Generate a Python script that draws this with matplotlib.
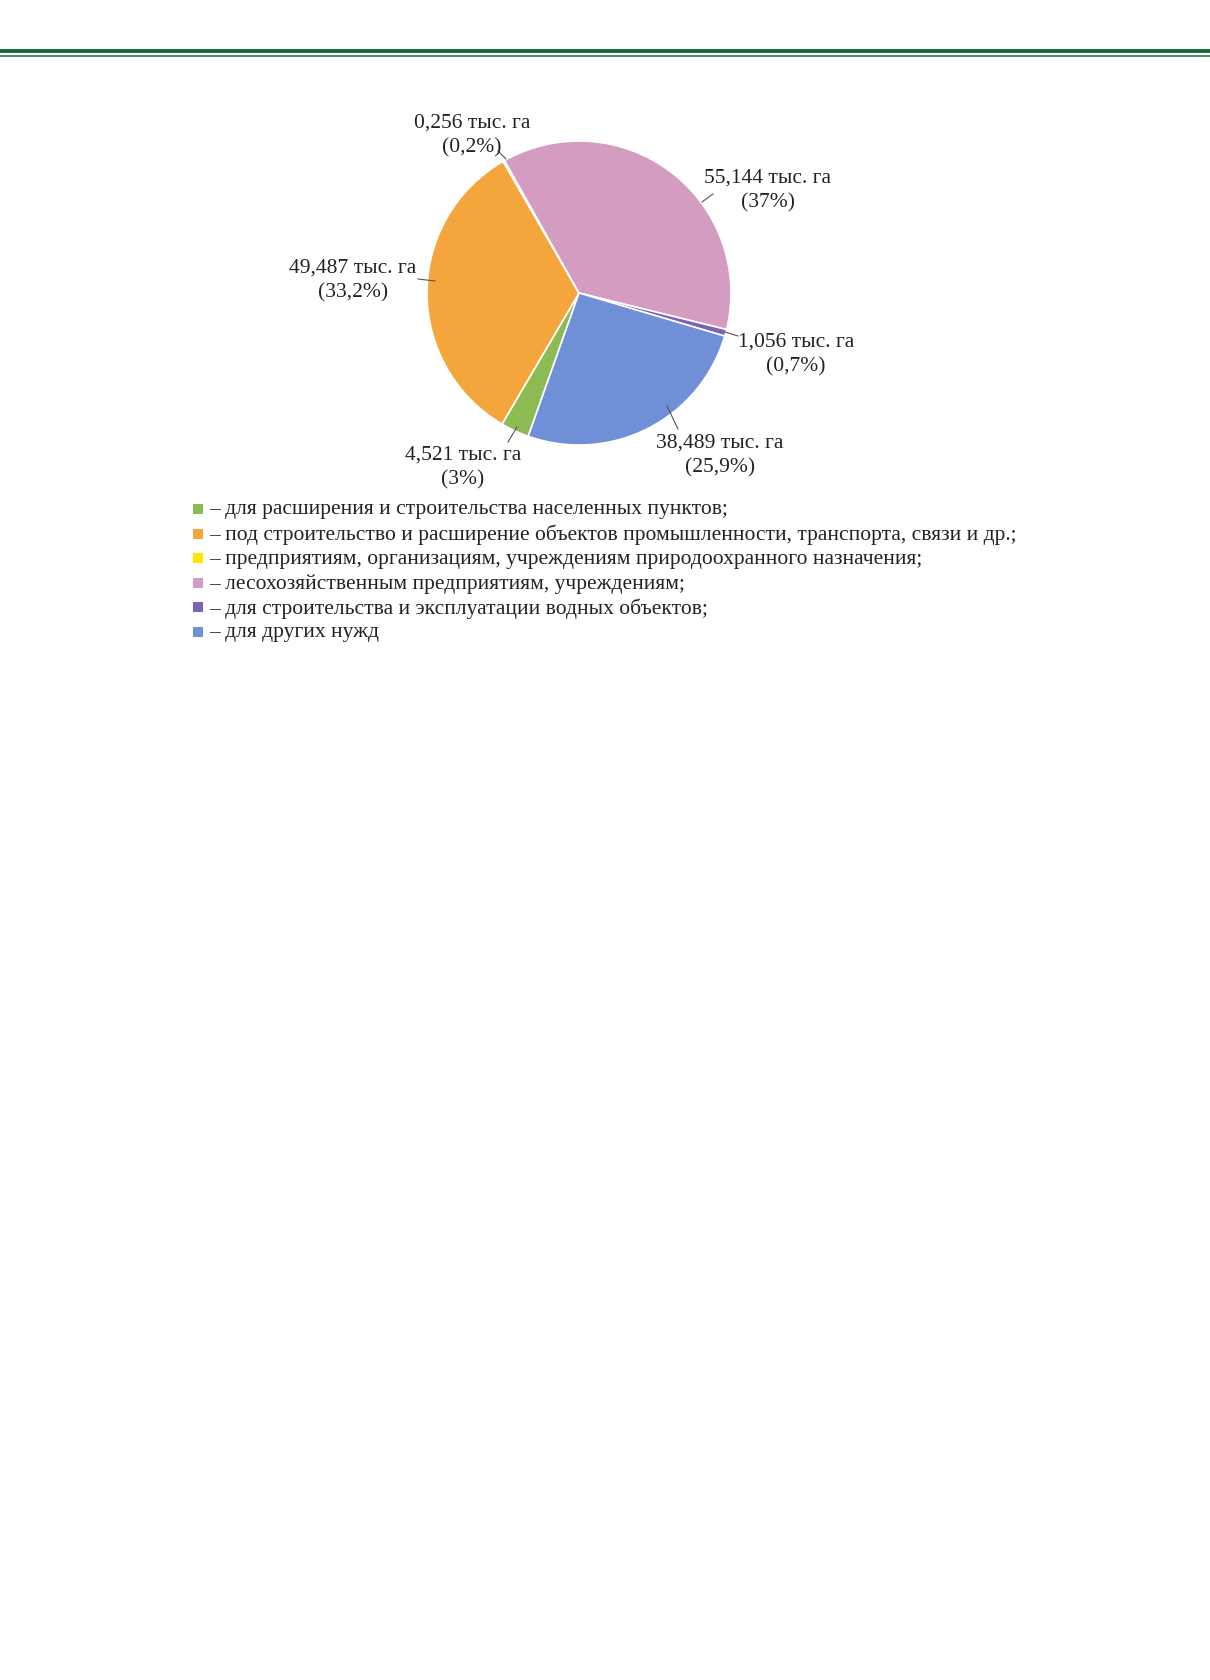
import matplotlib
matplotlib.use("Agg")
import matplotlib.pyplot as plt
from matplotlib.patches import Rectangle
from matplotlib.lines import Line2D

# ---- data ----
categories = [
    "для расширения и строительства населенных пунктов;",
    "под строительство и расширение объектов промышленности, транспорта, связи и др.;",
    "предприятиям, организациям, учреждениям природоохранного назначения;",
    "лесохозяйственным предприятиям, учреждениям;",
    "для строительства и эксплуатации водных объектов;",
    "для других нужд",
]
values = [4.521, 49.487, 0.256, 55.144, 1.056, 38.489]
value_labels = ["4,521", "49,487", "0,256", "55,144", "1,056", "38,489"]
pct_labels = ["(3%)", "(33,2%)", "(0,2%)", "(37%)", "(0,7%)", "(25,9%)"]
colors = ["#8cba53", "#f4a63c", "#ffe600", "#d49cc0", "#7b64b6", "#6f8fd6"]

W, H = 1210, 1681
fig = plt.figure(figsize=(W / 100, H / 100), dpi=100)
fig.patch.set_facecolor("white")
FONT = ["Liberation Serif", "DejaVu Serif"]
FS = 15.5


def fx(px):
    return px / W


def fy(py):
    return 1 - py / H


# ---- header lines ----
fig.add_artist(Line2D([0, 1], [fy(52.3), fy(52.3)], color="#17693a", lw=2.8,
                      transform=fig.transFigure))
fig.add_artist(Line2D([0, 1], [fy(56.7), fy(56.7)], color="#17693a", lw=1.1,
                      transform=fig.transFigure))

# ---- pie ----
cx, cy, R = 579, 294, 152
half = 200
ax = fig.add_axes([fx(cx - half), fy(cy + half), 2 * half / W, 2 * half / H])
wedges, _ = ax.pie(values, colors=colors, startangle=-109.5, counterclock=False,
                   radius=1.0, wedgeprops=dict(edgecolor="white", linewidth=1.2))
ax.set_xlim(-half / R, half / R)
ax.set_ylim(-half / R, half / R)
ax.set_aspect("equal")
ax.axis("off")

# ---- labels (centre of first line, in pixels) and leader lines ----
label_pos = {
    0: ((463, 455), (508, 443), (517, 428)),
    1: ((353, 268), (418, 280), (435, 282)),
    2: ((472, 123), (498, 152), (506, 160)),
    3: ((768, 178), (713, 195), (702, 203)),
    4: ((796, 342), (738, 337), (725, 333)),
    5: ((720, 443), (678, 430), (667, 407)),
}
for i in range(len(values)):
    (tx, ty), (l1x, l1y), (l2x, l2y) = label_pos[i]
    fig.text(fx(tx), fy(ty), value_labels[i] + " тыс. га", ha="center", va="center",
             family=FONT, fontsize=FS, color="#222222")
    fig.text(fx(tx), fy(ty + 24.5), pct_labels[i], ha="center", va="center",
             family=FONT, fontsize=FS, color="#222222")
    fig.add_artist(Line2D([fx(l1x), fx(l2x)], [fy(l1y), fy(l2y)], color="#555555",
                          lw=0.8, transform=fig.transFigure))

# ---- legend ----
row0, step = 510, 24.6
for i, (cat, col) in enumerate(zip(categories, colors)):
    yc = row0 + i * step
    fig.add_artist(Rectangle((fx(193), fy(yc + 5)), 10 / W, 10 / H, facecolor=col,
                             edgecolor="none", transform=fig.transFigure))
    fig.text(fx(209), fy(yc), "– " + cat, ha="left", va="center", family=FONT,
             fontsize=FS, color="#222222")

fig.savefig("out.png", dpi=100, facecolor="white")
